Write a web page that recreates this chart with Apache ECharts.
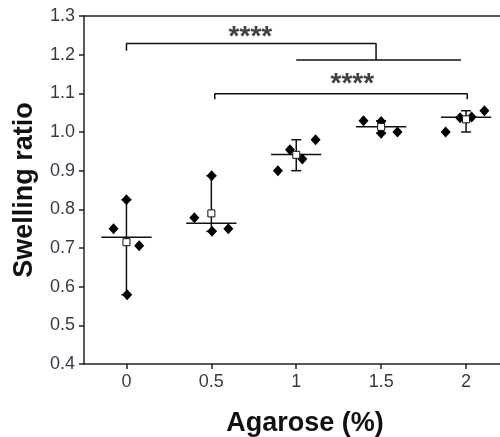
<!DOCTYPE html>
<html>
<head>
<meta charset="utf-8">
<script src="https://cdn.jsdelivr.net/npm/echarts@6/dist/echarts.min.js"></script>
<style>html,body{margin:0;padding:0;background:#fff;}#c{width:500px;height:437px;}</style>
</head>
<body>
<div id="c"></div>
<script>
// Agarose concentrations (%)
var agarose = [0, 0.5, 1, 1.5, 2];
// Swelling ratio replicates per group
var swelling = [
  [0.825, 0.750, 0.706, 0.579],
  [0.887, 0.778, 0.743, 0.750],
  [0.900, 0.954, 0.930, 0.980],
  [1.029, 1.027, 0.997, 1.000],
  [1.000, 1.037, 1.039, 1.055]
];
// horizontal scatter (jitter) of each replicate, in % agarose
var jitter = [
  [0.000, -0.076, 0.075, 0.004],
  [0.002, -0.100, 0.004, 0.100],
  [-0.108, -0.037, 0.036, 0.114],
  [-0.104, 0.000, 0.000, 0.096],
  [-0.120, -0.035, 0.033, 0.108]
];
// x tick labels
var xTicks = [0, 0.5, 1, 1.5, 2];
var xTickLabels = ['0', '0.5', '1', '1.5', '2'];
// significance brackets
var bracket1 = [[0, 1.210], [0, 1.229], [1.47, 1.229], [1.47, 1.186]];
var bracket1Base = [[1.0, 1.186], [1.97, 1.186]];
var bracket2 = [[0.52, 1.085], [0.52, 1.099], [2.007, 1.099], [2.007, 1.085]];
var starLabels = [[0.73, 1.244, '****'], [1.33, 1.124, '****']];
var yTicks = [0.4, 1.3, 0.1];

function mean(a){var s=0;for(var i=0;i<a.length;i++)s+=a[i];return s/a.length;}
function median(a){var b=a.slice().sort(function(x,y){return x-y;});var n=b.length;return n%2?b[(n-1)/2]:(b[n/2-1]+b[n/2])/2;}

var points = [], means = [], stats = [];
agarose.forEach(function(x, g){
  swelling[g].forEach(function(v, i){ points.push([x + jitter[g][i], v]); });
  means.push([x, mean(swelling[g])]);
  stats.push([x, median(swelling[g]), Math.min.apply(null, swelling[g]), Math.max.apply(null, swelling[g])]);
});

var labelColor = '#3d3848';
var chart = echarts.init(document.getElementById('c'), null, {renderer: 'canvas'});
chart.setOption({
  animation: false,
  grid: {left: 84, right: 0, top: 16, bottom: 73, containLabel: false, outerBoundsMode: 'none'},
  xAxis: [{
    type: 'value', min: -0.25, max: 2.2,
    splitLine: {show: false},
    axisLine: {onZero: false, lineStyle: {color: '#222', width: 1.5}},
    axisTick: {length: 5, customValues: xTicks, lineStyle: {color: '#222', width: 1.5}},
    axisLabel: {margin: 9, color: labelColor, fontSize: 18, fontFamily: 'Liberation Sans',
      customValues: xTicks,
      formatter: function(v){ var i = xTicks.indexOf(v); return i >= 0 ? xTickLabels[i] : ''; }},
    name: 'Agarose (%)', nameLocation: 'middle', nameGap: 46,
    nameTextStyle: {fontSize: 27, fontWeight: 'bold', color: '#111', fontFamily: 'Liberation Sans', padding: [0, 0, 0, 26]}
  }, {
    type: 'value', position: 'top', min: -0.25, max: 2.2,
    splitLine: {show: false},
    axisLine: {onZero: false, lineStyle: {color: '#222', width: 1.5}},
    axisTick: {show: false}, axisLabel: {show: false}
  }],
  yAxis: {
    type: 'value', min: yTicks[0], max: yTicks[1], interval: yTicks[2],
    splitLine: {show: false},
    axisLine: {show: true, onZero: false, lineStyle: {color: '#222', width: 1.5}},
    axisTick: {show: true, length: 5, lineStyle: {color: '#222', width: 1.5}},
    axisLabel: {margin: 9, color: labelColor, fontSize: 18, fontFamily: 'Liberation Sans',
      formatter: function(v){ return v.toFixed(1); }},
    name: 'Swelling ratio', nameLocation: 'middle', nameGap: 34,
    nameTextStyle: {fontSize: 27, fontWeight: 'bold', color: '#111', fontFamily: 'Liberation Sans', padding: [0, 0, 12, 0]}
  },
  series: [
    {
      type: 'custom', z: 2,
      data: stats,
      renderItem: function(params, api){
        var x = api.value(0);
        var lo = api.coord([x, api.value(2)]);
        var hi = api.coord([x, api.value(3)]);
        var mL = api.coord([x - 0.148, api.value(1)]);
        var mR = api.coord([x + 0.148, api.value(1)]);
        var capW = 5;
        var st = {stroke: '#111', lineWidth: 1.5};
        return {type: 'group', children: [
          {type: 'line', shape: {x1: mL[0], y1: mL[1], x2: mR[0], y2: mR[1]}, style: st},
          {type: 'line', shape: {x1: lo[0], y1: lo[1], x2: hi[0], y2: hi[1]}, style: st},
          {type: 'line', shape: {x1: lo[0]-capW, y1: lo[1], x2: lo[0]+capW, y2: lo[1]}, style: st},
          {type: 'line', shape: {x1: hi[0]-capW, y1: hi[1], x2: hi[0]+capW, y2: hi[1]}, style: st}
        ]};
      }
    },
    {
      type: 'scatter', z: 3, data: points, symbol: 'diamond', symbolSize: [10, 11],
      itemStyle: {color: '#000', opacity: 1}
    },
    {
      type: 'scatter', z: 4, data: means, symbol: 'rect', symbolSize: 7,
      itemStyle: {color: '#fff', borderColor: '#111', borderWidth: 1, opacity: 1}
    },
    {type: 'line', data: bracket1, symbol: 'none', lineStyle: {color: '#111', width: 1.5}, z: 2},
    {type: 'line', data: bracket1Base, symbol: 'none', lineStyle: {color: '#111', width: 1.5}, z: 2},
    {type: 'line', data: bracket2, symbol: 'none', lineStyle: {color: '#111', width: 1.5}, z: 2},
    {
      type: 'scatter', data: starLabels, symbolSize: 0, z: 5,
      label: {show: true, position: 'inside', formatter: function(p){ return p.value[2]; },
        fontSize: 28, fontWeight: 'bold', color: '#111', fontFamily: 'Liberation Sans'}
    }
  ]
});
</script>
</body>
</html>
